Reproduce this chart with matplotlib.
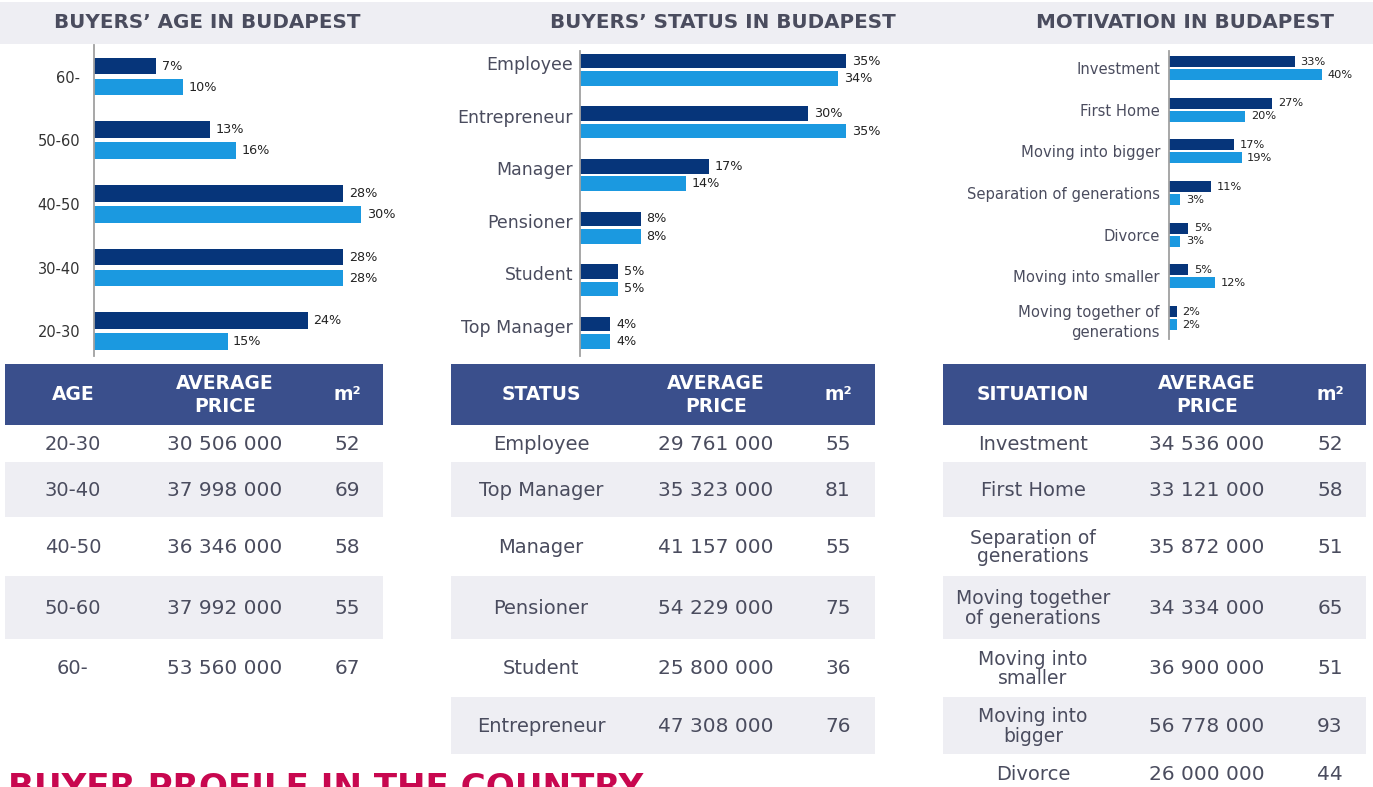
import matplotlib
matplotlib.use("Agg")
import matplotlib.pyplot as plt
import numpy as np
from matplotlib.patches import Rectangle

# ---------------- data ----------------
age_cats = ['60-', '50-60', '40-50', '30-40', '20-30']
age_dark = [7, 13, 28, 28, 24]
age_light = [10, 16, 30, 28, 15]

status_cats = ['Employee', 'Entrepreneur', 'Manager', 'Pensioner', 'Student', 'Top Manager']
status_dark = [35, 30, 17, 8, 5, 4]
status_light = [34, 35, 14, 8, 5, 4]

mot_cats = ['Investment', 'First Home', 'Moving into bigger', 'Separation of generations',
            'Divorce', 'Moving into smaller', 'Moving together of\ngenerations']
mot_dark = [33, 27, 17, 11, 5, 5, 2]
mot_light = [40, 20, 19, 3, 3, 12, 2]

titles = ["BUYERS\u2019 AGE IN BUDAPEST", "BUYERS\u2019 STATUS IN BUDAPEST", "MOTIVATION IN BUDAPEST"]

age_tbl_head = ['AGE', 'AVERAGE\nPRICE', 'm\u00b2']
age_tbl_rows = ['20-30', '30-40', '40-50', '50-60', '60-']
age_tbl_price = ['30 506 000', '37 998 000', '36 346 000', '37 992 000', '53 560 000']
age_tbl_m2 = [52, 69, 58, 55, 67]

status_tbl_head = ['STATUS', 'AVERAGE\nPRICE', 'm\u00b2']
status_tbl_rows = ['Employee', 'Top Manager', 'Manager', 'Pensioner', 'Student', 'Entrepreneur']
status_tbl_price = ['29 761 000', '35 323 000', '41 157 000', '54 229 000', '25 800 000', '47 308 000']
status_tbl_m2 = [55, 81, 55, 75, 36, 76]

sit_tbl_head = ['SITUATION', 'AVERAGE\nPRICE', 'm\u00b2']
sit_tbl_rows = ['Investment', 'First Home', 'Separation of\ngenerations', 'Moving together\nof generations',
                'Moving into\nsmaller', 'Moving into\nbigger', 'Divorce']
sit_tbl_price = ['34 536 000', '33 121 000', '35 872 000', '34 334 000', '36 900 000', '56 778 000', '26 000 000']
sit_tbl_m2 = [52, 58, 51, 65, 51, 93, 44]

bottom_title = "BUYER PROFILE IN THE COUNTRY"

# ---------------- style ----------------
DARK = '#06357A'
LIGHT = '#1B99E0'
HEAD = '#3A4F8C'
BAND = '#EEEEF3'
TXT = '#4A4C5E'
CRIMSON = '#C8074F'

W, H = 1373, 787
fig = plt.figure(figsize=(W / 100, H / 100), dpi=100)
fig.patch.set_facecolor('white')

bg = fig.add_axes([0, 0, 1, 1])
bg.set_xlim(0, W)
bg.set_ylim(H, 0)
bg.axis('off')
bg.set_zorder(0)

# title band
bg.add_patch(Rectangle((0, 2), W, 42, facecolor=BAND, edgecolor='none'))
for t, cx in zip(titles, [207, 723, 1185]):
    bg.text(cx, 23, t, ha='center', va='center', fontsize=14.3, fontweight='bold', color=TXT)


def px_axes(left, top, right, bottom):
    a = fig.add_axes([left / W, 1 - bottom / H, (right - left) / W, (bottom - top) / H])
    a.set_facecolor('none')
    a.set_zorder(2)
    return a


def bar_chart(ax, cats, dark, light, xmax, ylim, bh, off, vfs, lfs, lcolor, pad, tick_shift=0.0,
              linesp=1.2):
    y = np.arange(len(cats))
    ax.barh(y - off, dark, height=bh, color=DARK)
    ax.barh(y + off, light, height=bh, color=LIGHT)
    ax.set_xlim(0, xmax)
    ax.set_ylim(*ylim)
    for yy, v in zip(y - off, dark):
        ax.annotate(f'{v}%', (v, yy), xytext=(4, 0), textcoords='offset points',
                    va='center', ha='left', fontsize=vfs, color='#222222')
    for yy, v in zip(y + off, light):
        ax.annotate(f'{v}%', (v, yy), xytext=(4, 0), textcoords='offset points',
                    va='center', ha='left', fontsize=vfs, color='#222222')
    ax.set_yticks(y + tick_shift)
    ax.set_yticklabels(cats, fontsize=lfs, color=lcolor, linespacing=linesp)
    ax.tick_params(axis='y', length=0, pad=pad)
    ax.set_xticks([])
    for s in ['top', 'right', 'bottom']:
        ax.spines[s].set_visible(False)
    ax.spines['left'].set_color('#A0A0A0')
    ax.spines['left'].set_linewidth(1.3)


ax1 = px_axes(94, 45, 94 + 8.9 * 35, 356)
bar_chart(ax1, age_cats, age_dark, age_light, 35, (4.39, -0.495), 0.26, 0.165, 9.2, 10.5,
          '#333333', 10)

ax2 = px_axes(580, 51, 580 + 7.6 * 40, 356)
bar_chart(ax2, status_cats, status_dark, status_light, 40, (5.44, -0.357), 0.275, 0.165, 9.2, 12.5,
          TXT, 5, tick_shift=-0.13)

ax3 = px_axes(1169, 51, 1169 + 3.82 * 45, 339)
bar_chart(ax3, mot_cats, mot_dark, mot_light, 45, (6.5, -0.41), 0.264, 0.156, 8.2, 10.6,
          TXT, 6.5, linesp=1.45)

# ---------------- tables ----------------
row_bounds = [(425, 462), (462, 517), (517, 576), (576, 639), (639, 697), (697, 754), (754, 800)]


def table(left, right, cols, head, rows, prices, m2):
    bg.add_patch(Rectangle((left, 364), right - left, 61, facecolor=HEAD, edgecolor='none'))
    for cx, h in zip(cols, head):
        bg.text(left + cx, 395, h, ha='center', va='center', fontsize=13.5, fontweight='bold',
                color='white', linespacing=1.3)
    for i, (r, p, m) in enumerate(zip(rows, prices, m2)):
        t, b = row_bounds[i]
        if i % 2 == 1:
            bg.add_patch(Rectangle((left, t), right - left, b - t, facecolor=BAND, edgecolor='none'))
        cy = (t + b) / 2 + 1 if b < 790 else 774
        fs = 14 if '\n' not in r else 13.5
        bg.text(left + cols[0], cy, r, ha='center', va='center', fontsize=fs, color=TXT,
                linespacing=1.0)
        bg.text(left + cols[1], cy, p, ha='center', va='center', fontsize=14.5, color=TXT)
        bg.text(left + cols[2], cy, str(m), ha='center', va='center', fontsize=14.5, color=TXT)


table(5, 383, [68, 220, 342], age_tbl_head, age_tbl_rows, age_tbl_price, age_tbl_m2)
table(451, 875, [90, 265, 387], status_tbl_head, status_tbl_rows, status_tbl_price, status_tbl_m2)
table(943, 1366, [90, 264, 387], sit_tbl_head, sit_tbl_rows, sit_tbl_price, sit_tbl_m2)

# section heading that continues below the visible area (cut off, as in the reference)
bg.text(8, 798, bottom_title, ha='left', va='baseline', fontsize=24.6, fontweight='bold',
        color=CRIMSON)

fig.savefig('out.png', dpi=100, facecolor='white')
